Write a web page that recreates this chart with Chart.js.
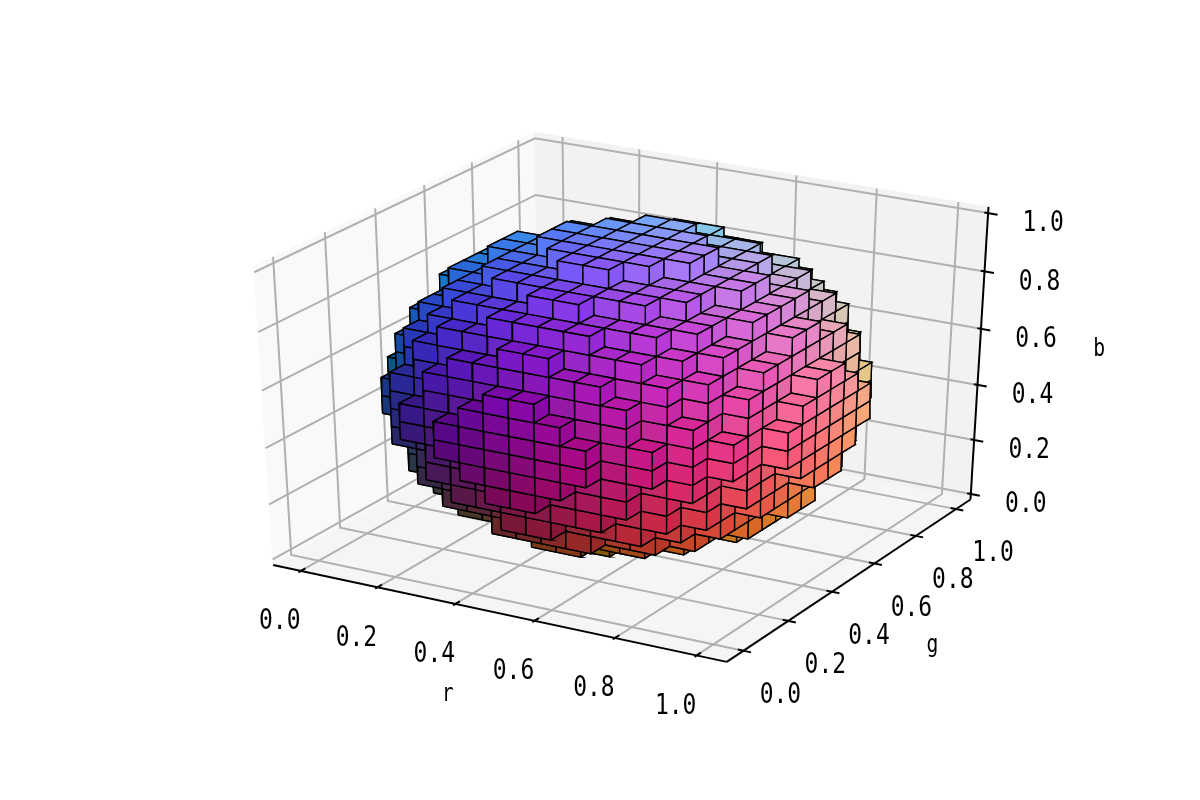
<!DOCTYPE html>
<html lang="en">
<head>
    <meta charset="UTF-8">
    <title>RGB sphere voxels</title>
    <script src="https://cdn.jsdelivr.net/npm/chart.js"></script>
    <style>
        * { margin: 0; padding: 0; box-sizing: border-box; }
        body { background: #fff; width: 1200px; height: 800px; overflow: hidden; }
        #chart-box { position: relative; width: 1200px; height: 800px; }
    </style>
</head>
<body>
    <div id="chart-box"><canvas id="voxelChart" width="1200" height="800"></canvas></div>

    <script>
        // tick labels, shared by the three axes
        const tickValues = [0, 0.2, 0.4, 0.6, 0.8, 1];
        const tickLabels = ['0.0', '0.2', '0.4', '0.6', '0.8', '1.0'];
        const axisNames = ['r', 'g', 'b'];

        // cells per side of the cube
        const gridSize = 16;

        // filled cells: half-width of each row, layer by layer, out from the centre
        const layer0 = [8, 8, 8, 7, 7, 6, 5, 3];
        const layer1 = [8, 8, 7, 7, 6, 6, 4, 2];
        const layer2 = [8, 7, 7, 7, 6, 5, 4, 1];
        const layer3 = [7, 7, 7, 6, 6, 5, 3, 0];
        const layer4 = [7, 6, 6, 6, 5, 4, 1, 0];
        const layer5 = [6, 6, 5, 5, 4, 2, 0, 0];
        const layer6 = [5, 4, 4, 3, 1, 0, 0, 0];
        const layer7 = [3, 2, 1, 0, 0, 0, 0, 0];
        const layers = [layer0, layer1, layer2, layer3, layer4, layer5, layer6, layer7];

        // camera and per-axis limits (b has no margin)
        const elev = 30 * Math.PI / 180;
        const azim = -60 * Math.PI / 180;
        const dist = 10;
        const dataMin = [-0.05, -0.05, 0];
        const dataMax = [1.05, 1.05, 1];
        const paneMin = [-0.0729, -0.0729, -0.0208];
        const paneMax = [1.0729, 1.0729, 1.0208];
        const tickDelta = [0.0917, 0.0917, 0.0833];

        // projected range covered by the canvas
        const xRange = [-0.1248, 0.1139];
        const yRange = [-0.1258, 0.1183];

        // brightness of a face by its direction
        const shade = { xp: 1, xm: 0.8, yp: 0.8, ym: 1, zp: 1, zm: 0.7 };

        const u = [0.866025, 0.5, 0];
        const v = [-Math.sin(elev) * Math.cos(azim), -Math.sin(elev) * Math.sin(azim), Math.cos(elev)];
        const n = [Math.cos(elev) * Math.cos(azim), Math.cos(elev) * Math.sin(azim), Math.sin(elev)];
        const eye = n.map(c => 0.5 + dist * c);

        function project(p) {
            const d = p.map((c, i) => (c - dataMin[i]) / (dataMax[i] - dataMin[i]) - eye[i]);
            const dot = a => a[0] * d[0] + a[1] * d[1] + a[2] * d[2];
            const w = -dot(n);
            return { x: dot(u) / w, y: dot(v) / w, depth: w };
        }

        function isFilled(i, j, k) {
            if (i < 0 || j < 0 || k < 0 || i >= gridSize || j >= gridSize || k >= gridSize) return false;
            const mid = gridSize / 2;
            const fold = c => c < mid ? mid - 1 - c : c - mid;
            return fold(i) < layers[fold(k)][fold(j)];
        }

        // faces of a unit cell: neighbour direction, corner offsets, shade
        const faceDefs = [
            { dir: [1, 0, 0], c: [[1,0,0],[1,1,0],[1,1,1],[1,0,1]], s: shade.xp },
            { dir: [-1, 0, 0], c: [[0,0,0],[0,1,0],[0,1,1],[0,0,1]], s: shade.xm },
            { dir: [0, 1, 0], c: [[0,1,0],[1,1,0],[1,1,1],[0,1,1]], s: shade.yp },
            { dir: [0, -1, 0], c: [[0,0,0],[1,0,0],[1,0,1],[0,0,1]], s: shade.ym },
            { dir: [0, 0, 1], c: [[0,0,1],[1,0,1],[1,1,1],[0,1,1]], s: shade.zp },
            { dir: [0, 0, -1], c: [[0,0,0],[1,0,0],[1,1,0],[0,1,0]], s: shade.zm }
        ];

        function buildFaces() {
            const faces = [];
            for (let i = 0; i < gridSize; i++) {
                for (let j = 0; j < gridSize; j++) {
                    for (let k = 0; k < gridSize; k++) {
                        if (!isFilled(i, j, k)) continue;
                        faceDefs.forEach(f => {
                            if (isFilled(i + f.dir[0], j + f.dir[1], k + f.dir[2])) return;
                            const pts = f.c.map(o => project([(i + o[0]) / gridSize, (j + o[1]) / gridSize, (k + o[2]) / gridSize]));
                            const depth = pts.reduce((a, p) => a + 10 / p.depth, 0) / 4;
                            const col = [i, j, k].map(c => Math.round(255 * f.s * (c + 0.5) / gridSize));
                            faces.push({ pts, depth, color: `rgb(${col[0]},${col[1]},${col[2]})` });
                        });
                    }
                }
            }
            // farthest first, painter style
            faces.sort((a, b) => a.depth - b.depth);
            return faces;
        }

        function lineSet(points3d, color, width) {
            return {
                type: 'line',
                data: points3d.map(project),
                borderColor: color,
                borderWidth: width,
                pointRadius: 0,
                fill: false,
                tension: 0,
                clip: false
            };
        }

        function paneSet(points3d, color) {
            const pts = points3d.map(project);
            return {
                type: 'line',
                data: pts.concat([pts[0]]),
                borderColor: color,
                borderWidth: 1,
                backgroundColor: color,
                pointRadius: 0,
                fill: 'shape',
                tension: 0,
                clip: false
            };
        }

        const [rLo, gLo, bLo] = paneMin;
        const [rHi, gHi, bHi] = paneMax;
        const under = [
            paneSet([[rLo, gLo, bLo], [rLo, gHi, bLo], [rLo, gHi, bHi], [rLo, gLo, bHi]], '#f9f9f9'),
            paneSet([[rLo, gHi, bLo], [rHi, gHi, bLo], [rHi, gHi, bHi], [rLo, gHi, bHi]], '#f2f2f2'),
            paneSet([[rLo, gLo, bLo], [rHi, gLo, bLo], [rHi, gHi, bLo], [rLo, gHi, bLo]], '#f5f5f5')
        ];

        tickValues.forEach(t => {
            under.push(lineSet([[t, gLo, bLo], [t, gHi, bLo], [t, gHi, bHi]], '#b0b0b0', 2));
            under.push(lineSet([[rHi, t, bLo], [rLo, t, bLo], [rLo, t, bHi]], '#b0b0b0', 2));
            under.push(lineSet([[rLo, gLo, t], [rLo, gHi, t], [rHi, gHi, t]], '#b0b0b0', 2));
        });

        under.push(lineSet([[rLo, gLo, bLo], [rHi, gLo, bLo]], '#000', 2));
        under.push(lineSet([[rHi, gLo, bLo], [rHi, gHi, bLo]], '#000', 2));
        under.push(lineSet([[rHi, gHi, bLo], [rHi, gHi, bHi]], '#000', 2));

        tickValues.forEach(t => {
            under.push(lineSet([[t, gLo - 0.1 * tickDelta[1], bLo], [t, gLo + 0.2 * tickDelta[1], bLo]], '#000', 2));
            under.push(lineSet([[rHi + 0.2 * tickDelta[0], t, bLo], [rHi - 0.15 * tickDelta[0], t, bLo]], '#000', 2));
            under.push(lineSet([[rHi + 0.25 * tickDelta[0], gHi, t], [rHi - 0.1 * tickDelta[0], gHi, t]], '#000', 2));
        });

        const voxelSets = buildFaces().map(f => ({
            type: 'line',
            data: f.pts.concat([f.pts[0]]),
            borderColor: '#000',
            borderWidth: 1.4,
            backgroundColor: f.color,
            pointRadius: 0,
            fill: 'shape',
            tension: 0,
            clip: false
        }));

        // the first dataset is painted last, so the list runs front to back
        const allSets = under.concat(voxelSets).reverse();

        // tick labels sit at a fixed offset from their tick, in pixels
        const axisText = {
            id: 'axisText',
            afterDraw(chart) {
                const { ctx, scales } = chart;
                const put = (p3, dx, dy, text, size) => {
                    const p = project(p3);
                    ctx.save();
                    ctx.translate(scales.x.getPixelForValue(p.x) + dx, scales.y.getPixelForValue(p.y) + dy);
                    ctx.scale(0.82, 1);
                    ctx.font = size + 'px "DejaVu Sans Mono"';
                    ctx.fillStyle = '#000';
                    ctx.textAlign = 'center';
                    ctx.textBaseline = 'middle';
                    ctx.fillText(text, 0, 0);
                    ctx.restore();
                };
                tickValues.forEach((t, i) => {
                    put([t, gLo, bLo], -21, 51, tickLabels[i], 28);
                    put([rHi, t, bLo], 37, 45, tickLabels[i], 28);
                    put([rHi, gHi, t], 55, 11, tickLabels[i], 28);
                });
                put([0.5, gLo, bLo], -47, 82, axisNames[0], 24);
                put([rHi, 0.5, bLo], 79, 68, axisNames[1], 24);
                put([rHi, gHi, 0.5], 120, -7, axisNames[2], 24);
            }
        };

        new Chart(document.getElementById('voxelChart'), {
            type: 'scatter',
            data: { datasets: allSets },
            plugins: [axisText],
            options: {
                responsive: false,
                devicePixelRatio: 1,
                animation: false,
                events: [],
                layout: { padding: 0 },
                scales: {
                    x: { type: 'linear', display: false, min: xRange[0], max: xRange[1] },
                    y: { type: 'linear', display: false, min: yRange[0], max: yRange[1] }
                },
                plugins: {
                    legend: { display: false },
                    tooltip: { enabled: false },
                    filler: { drawTime: 'beforeDatasetDraw', propagate: false }
                }
            }
        });
    </script>
</body>
</html>
